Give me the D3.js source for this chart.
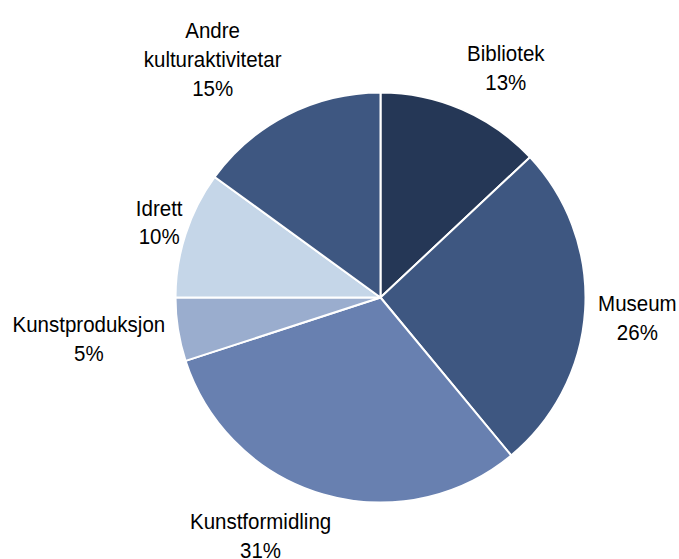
<!DOCTYPE html>
<html>
<head>
<meta charset="utf-8">
<script src="https://cdn.jsdelivr.net/npm/d3@7"></script>
<style>
  body { margin: 0; background: #fff; }
  text { font-family: "Liberation Sans", Arial, sans-serif; font-size: 20.5px; fill: #000; }
</style>
</head>
<body>
<svg id="pie" width="679" height="559"></svg>
<script>
// categories clockwise from 12 o'clock
const categories = ["Bibliotek", "Museum", "Kunstformidling", "Kunstproduksjon", "Idrett", "Andre kulturaktivitetar"];
const shares = [13, 26, 31, 5, 10, 15];
const labelLines = [["Bibliotek"], ["Museum"], ["Kunstformidling"], ["Kunstproduksjon"], ["Idrett"], ["Andre", "kulturaktivitetar"]];
const colors = ["#253756", "#3e5781", "#6880b0", "#9aadce", "#c5d6e8", "#3e5781"];

function whenDocumentLoaded(action) {
  if (document.readyState === "loading") {
    document.addEventListener("DOMContentLoaded", action);
  } else {
    action();
  }
}

whenDocumentLoaded(() => {
  const svg = d3.select("#pie");
  const cx = 380.5, cy = 297.5, r = 205;
  const lineH = 29;
  const stretch = 1.07; // glyphs in the original are a bit taller than wide

  const data = categories.map((c, i) => ({ name: c, value: shares[i], lines: labelLines[i], color: colors[i] }));

  const pie = d3.pie().sort(null).value(d => d.value);
  const arc = d3.arc().innerRadius(0).outerRadius(r);
  const arcs = pie(data);

  const g = svg.append("g").attr("transform", `translate(${cx},${cy})`);

  g.selectAll("path")
    .data(arcs)
    .enter()
    .append("path")
    .attr("d", arc)
    .attr("fill", d => d.data.color)
    .attr("stroke", "#fff")
    .attr("stroke-width", 2)
    .attr("stroke-linejoin", "round");

  // labels: put the box corner / edge nearest the pie on the mid-angle ray
  const labelR = r + 13;
  const labels = g.selectAll("g.label")
    .data(arcs)
    .enter()
    .append("g")
    .attr("class", "label");

  labels.each(function(d) {
    const sel = d3.select(this);
    const lines = d.data.lines.concat([d.data.value + "%"]);
    const t = sel.append("text")
      .attr("text-anchor", "middle")
      .attr("transform", `scale(1,${stretch})`);
    lines.forEach((l, i) => {
      t.append("tspan")
        .attr("x", 0)
        .attr("y", ((i - (lines.length - 1) / 2) * lineH + 7.5) / stretch)
        .text(l);
    });
    const w = d3.max(t.selectAll("tspan").nodes(), n => n.getComputedTextLength());
    const h = lines.length * lineH;
    const a = (d.startAngle + d.endAngle) / 2;
    const s = Math.sin(a), c = Math.cos(a);
    const fx = Math.max(-1, Math.min(1, s * 3)) * (Math.abs(c) > 0.25 && Math.abs(c) < 0.5 ? 0.6 : 1);
    const fy = Math.sign(c) * Math.min(1, 0.25 + Math.max(0, Math.abs(c) - 0.3) * 1.5);
    const px = labelR * s + fx * w / 2;
    const py = -labelR * c - fy * h / 2;
    sel.attr("transform", `translate(${px},${py})`);
  });
});
</script>
</body>
</html>
